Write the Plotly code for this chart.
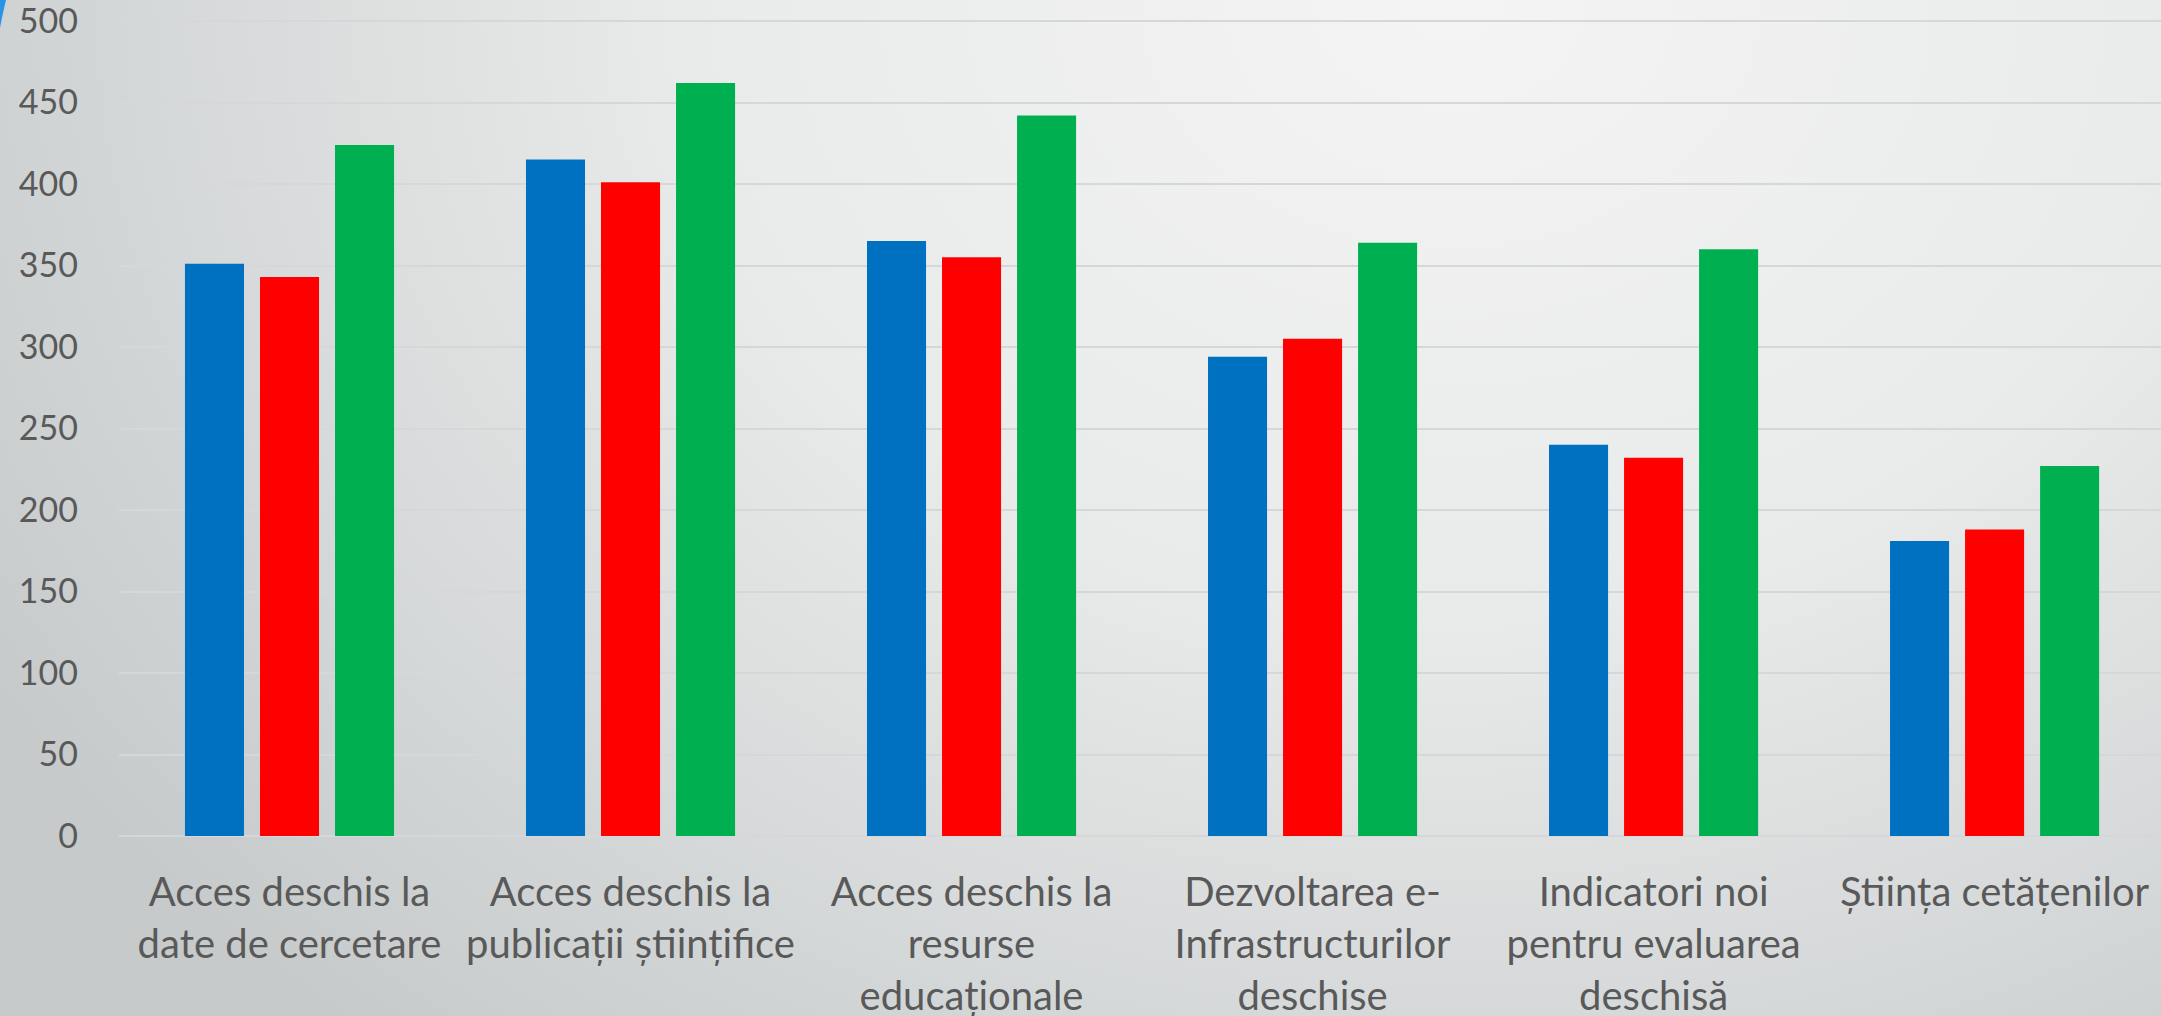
import base64
import plotly.graph_objects as go

categories = [
    "Acces deschis la<br>date de cercetare",
    "Acces deschis la<br>publicații științifice",
    "Acces deschis la<br>resurse<br>educaționale",
    "Dezvoltarea e-<br>Infrastructurilor<br>deschise",
    "Indicatori noi<br>pentru evaluarea<br>deschisă",
    "Știința cetățenilor",
]
series_blue = [351, 415, 365, 294, 240, 181]
series_red = [343, 401, 355, 305, 232, 188]
series_green = [424, 462, 442, 364, 360, 227]
y_ticks = [0, 50, 100, 150, 200, 250, 300, 350, 400, 450, 500]

W, H = 2161, 1016
ML, MR, MT, MB = 119, 0, 0, 180
PW, PH = W - ML - MR, H - MT - MB
TOP500_PX = 21  # pixel row of the 500 gridline
YMAX = 500 + TOP500_PX * 500 / (PH - TOP500_PX)

svg = f'''<svg xmlns="http://www.w3.org/2000/svg" width="{W}" height="{H}" viewBox="0 0 {W} {H}">
<defs>
<radialGradient id="g" gradientUnits="userSpaceOnUse" cx="1450" cy="0" r="1700" gradientTransform="translate(1450 0) scale(1 0.8) translate(-1450 0)">
<stop offset="0" stop-color="#f4f4f4"/>
<stop offset="0.45" stop-color="#e9eaea"/>
<stop offset="1" stop-color="#c6cacb"/>
</radialGradient>
</defs>
<rect width="{W}" height="{H}" fill="url(#g)"/>
</svg>'''
bg_uri = "data:image/svg+xml;base64," + base64.b64encode(svg.encode()).decode()


def px_x(p):
    return (p - ML) / PW


def px_y(p):
    return 1 - (p - MT) / PH


fig = go.Figure()
for vals, col in [(series_blue, "#0070C0"), (series_red, "#FF0000"), (series_green, "#00B050")]:
    fig.add_trace(go.Bar(x=categories, y=vals, marker=dict(color=col, line=dict(width=0)),
                         showlegend=False))

fig.update_layout(
    width=W, height=H,
    margin=dict(l=ML, r=MR, t=MT, b=MB, autoexpand=False),
    paper_bgcolor="#e4e5e6",
    plot_bgcolor="rgba(0,0,0,0)",
    barmode="group",
    bargap=0.34,
    bargroupgap=0.213,
    font=dict(family="Lato, 'Open Sans', sans-serif", color="#595959"),
    images=[dict(source=bg_uri, xref="paper", yref="paper",
                 x=px_x(0), y=px_y(0), sizex=W / PW, sizey=H / PH,
                 sizing="stretch", layer="below", xanchor="left", yanchor="top")],
    shapes=[dict(type="path", xref="paper", yref="paper",
                 path=(f"M {px_x(0)} {px_y(0)} L {px_x(6)} {px_y(0)} "
                       f"Q {px_x(3)} {px_y(12)} {px_x(0)} {px_y(28)} Z"),
                 fillcolor="#2a93e8", line=dict(width=0), layer="above")],
)
fig.update_xaxes(
    range=[-0.5, 5.488],
    tickfont=dict(size=40, color="#595959"),
    ticklabelstandoff=29,
    automargin=False,
    showgrid=False, showline=False, zeroline=False, ticks="",
)
fig.update_yaxes(
    range=[0, YMAX],
    tickvals=y_ticks,
    tickfont=dict(size=34, color="#595959"),
    ticklabelstandoff=40,
    ticklabeloverflow="allow",
    automargin=False,
    showgrid=True, gridcolor="#d6d7d8", gridwidth=2,
    zeroline=True, zerolinecolor="#d6d7d8", zerolinewidth=2,
    showline=False, ticks="",
)

fig.write_html("out.html",
               config={"displayModeBar": False},
               post_script="document.body.style.margin='0';document.body.style.overflow='hidden';")
